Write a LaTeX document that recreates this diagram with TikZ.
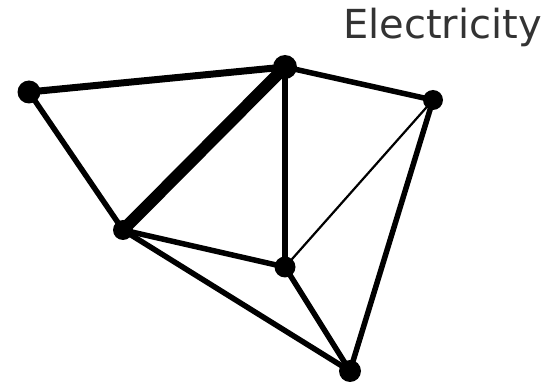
\documentclass[tikz,border=0pt]{standalone}
\usepackage{fontspec}
\setsansfont{DejaVu Sans}
\usepackage{tikz}
\usetikzlibrary{positioning}

\begin{document}
\begin{tikzpicture}[x=1pt, y=-1pt,
  hub/.style={draw=none, circle, fill=black, inner sep=0pt, minimum size=#1},
  hub/.default=22pt,
  wire/.style={line width=#1, line cap=round},
  wire/.default=5.5pt]
\useasboundingbox (0,0) rectangle (550,385);
\node[hub=23pt] (a) at (29,92) {};
\node[hub=24pt] (b) at (285,67) {};
\node[hub=20pt] (c) at (433,100) {};
\node[hub=20pt] (d) at (123,230) {};
\node[hub=21pt] (e) at (285,267) {};
\node[hub] (f) at (350,371) {};
\draw[wire=7pt] (a.center) -- (b.center);
\draw[wire=12pt] (b.center) -- (d.center);
\draw[wire] (a.center) -- (d.center);
\draw[wire] (b.center) -- (c.center);
\draw[wire] (b.center) -- (e.center);
\draw[wire=2.2pt] (c.center) -- (e.center);
\draw[wire] (c.center) -- (f.center);
\draw[wire] (d.center) -- (e.center);
\draw[wire] (d.center) -- (f.center);
\draw[wire] (e.center) -- (f.center);
\node[anchor=base west, inner sep=0pt, text=black!80, font=\sffamily\fontsize{40}{48}\selectfont] (title) at (343,39) {Electricity};
\end{tikzpicture}
\end{document}
